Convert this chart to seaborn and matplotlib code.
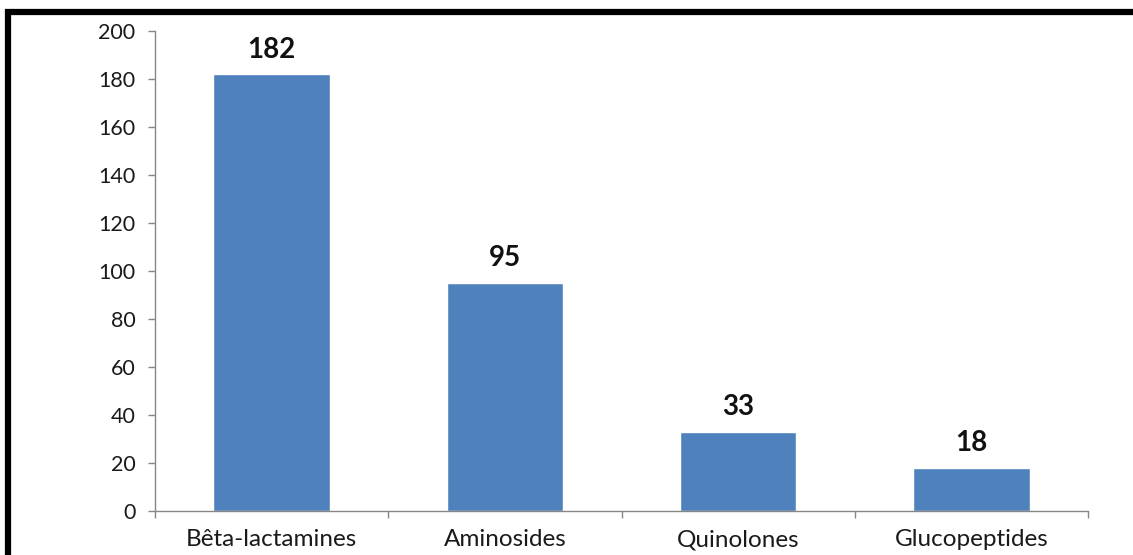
import matplotlib
matplotlib.use("Agg")
import matplotlib.pyplot as plt
import matplotlib.patches as mpatches
import seaborn as sns
import pandas as pd
import numpy as np

categories = ["Bêta-lactamines", "Aminosides", "Quinolones", "Glucopeptides"]
counts = [182, 95, 33, 18]
y_ticks = [0, 20, 40, 60, 80, 100, 120, 140, 160, 180, 200]

sns.set_theme(style="white")
plt.rcParams["font.family"] = ["Lato", "DejaVu Sans"]

df = pd.DataFrame({"classe": categories, "n": counts})

W, H = 1133, 555
fig = plt.figure(figsize=(W / 100, H / 100), dpi=100)
ax = fig.add_axes([155 / W, 1 - 511 / H, (1088 - 155) / W, (511 - 31) / H])

sns.barplot(data=df, x="classe", y="n", order=categories, color="#4F81BD",
            saturation=1, width=0.5, ax=ax)

ax.set_xlim(-0.5, len(categories) - 0.5)
ax.set_ylim(0, 200)
ax.set_yticks(y_ticks)
ax.set_xlabel("")
ax.set_ylabel("")

axis_col = "#868686"
for side in ["top", "right"]:
    ax.spines[side].set_visible(False)
for side in ["left", "bottom"]:
    ax.spines[side].set_color(axis_col)
    ax.spines[side].set_linewidth(1.0)

# y ticks outward on the left, x ticks at category boundaries
ax.tick_params(axis="y", which="major", direction="out", length=5, width=1,
               color=axis_col, labelsize=15.5, labelcolor="#1a1a1a", pad=9, left=True)
ax.tick_params(axis="x", which="major", length=0, labelsize=17.5,
               labelcolor="#1a1a1a", pad=13)
ax.set_xticks(np.arange(-0.5, len(categories), 1.0), minor=True)
ax.tick_params(axis="x", which="minor", direction="out", length=5, width=1,
               color=axis_col, bottom=True)

for i, v in enumerate(counts):
    ax.annotate(str(v), xy=(i, v), xytext=(0, 12), textcoords="offset points",
                ha="center", va="baseline", fontsize=20, fontweight="bold",
                color="#111111")

# thick frame around the chart area
frame = mpatches.Rectangle((8 / W, -0.2), 1.2, 1 - 12 / H + 0.2,
                           transform=fig.transFigure, fill=False,
                           edgecolor="black", linewidth=4.5, clip_on=False)
fig.patches.append(frame)

fig.savefig("out.png", dpi=100)
